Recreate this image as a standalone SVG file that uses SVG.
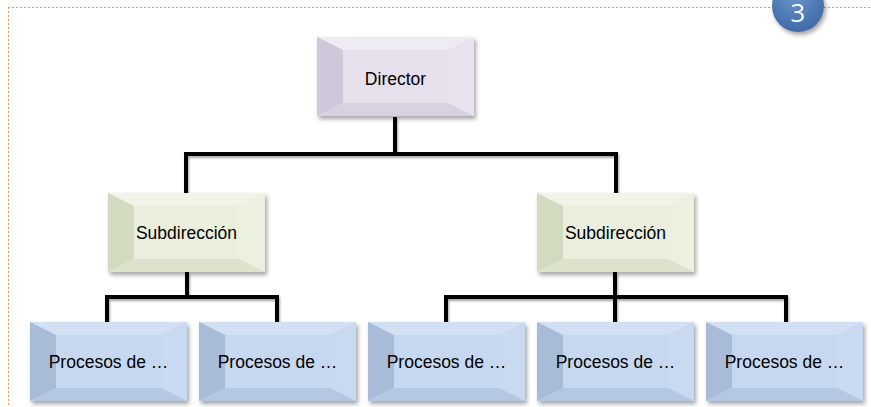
<svg xmlns="http://www.w3.org/2000/svg" xmlns:xlink="http://www.w3.org/1999/xlink" width="871" height="407" viewBox="0 0 871 407">
  <style>
    .frame { fill: none; stroke: #f79646; stroke-width: 1; stroke-dasharray: 2 2; }
    .conn { fill: none; stroke: #000; stroke-width: 4; stroke-linecap: butt; stroke-linejoin: miter; }
    .lbl { font-family: "Liberation Sans", Arial, sans-serif; font-size: 17.5px; fill: #000; text-anchor: middle; }
    .num { font-family: "Open Sans", "Liberation Sans", sans-serif; font-size: 26px; fill: #fff; text-anchor: middle; }
  </style>
  <defs>
    <filter id="sh" x="-10%" y="-10%" width="125%" height="130%">
      <feDropShadow dx="2" dy="3" stdDeviation="2" flood-color="#000" flood-opacity="0.35"/>
    </filter>
    <filter id="lsh" x="-5%" y="-20%" width="110%" height="160%">
      <feDropShadow dx="1" dy="2" stdDeviation="1.2" flood-color="#000" flood-opacity="0.35"/>
    </filter>
    <radialGradient id="ballg" cx="0.45" cy="0.3" r="0.75">
      <stop offset="0" stop-color="#6c95cc"/>
      <stop offset="1" stop-color="#3b67a3"/>
    </radialGradient>
    <g id="bev-blue">
      <rect x="0" y="0" width="157" height="79" fill="#c3d5ed"/>
      <polygon points="0,0 157,0 131,13 26,13" fill="#d2e0f3"/>
      <polygon points="0,0 26,13 26,66 0,79" fill="#a9bcd7"/>
      <polygon points="157,0 157,79 131,66 131,13" fill="#c9daf0"/>
      <polygon points="0,79 26,66 131,66 157,79" fill="#b5c8e2"/>
      <rect x="26" y="13" width="105" height="53" fill="#c5d8f0"/>
    </g>
    <g id="bev-green">
      <rect x="0" y="0" width="157" height="79" fill="#e6ecd8"/>
      <polygon points="0,0 157,0 131,13 26,13" fill="#f1f5e7"/>
      <polygon points="0,0 26,13 26,66 0,79" fill="#d2dac0"/>
      <polygon points="157,0 157,79 131,66 131,13" fill="#ebf0df"/>
      <polygon points="0,79 26,66 131,66 157,79" fill="#dbe3cb"/>
      <rect x="26" y="13" width="105" height="53" fill="#e9efdc"/>
    </g>
    <g id="bev-purple">
      <rect x="0" y="0" width="157" height="79" fill="#e2dde9"/>
      <polygon points="0,0 157,0 131,13 26,13" fill="#efebf3"/>
      <polygon points="0,0 26,13 26,66 0,79" fill="#cfc8da"/>
      <polygon points="157,0 157,79 131,66 131,13" fill="#e8e3ee"/>
      <polygon points="0,79 26,66 131,66 157,79" fill="#d8d1e2"/>
      <rect x="26" y="13" width="105" height="53" fill="#e5e0ec"/>
    </g>
  </defs>

  <g id="frame">
    <line class="frame" x1="8" y1="7.5" x2="871" y2="7.5"/>
    <line class="frame" x1="8.5" y1="7" x2="8.5" y2="407"/>
  </g>

  <g id="badge" filter="url(#sh)">
    <circle cx="798" cy="6" r="26" fill="url(#ballg)"/>
    <text class="num" x="798" y="22">3</text>
  </g>

  <g id="connectors" filter="url(#lsh)">
    <polyline class="conn" points="395,117 395,154"/>
    <polyline class="conn" points="186,193 186,154 616,154 616,193"/>
    <polyline class="conn" points="187,272 187,297"/>
    <polyline class="conn" points="107,322 107,297 277,297 277,322"/>
    <polyline class="conn" points="615,272 615,322"/>
    <polyline class="conn" points="446,322 446,297 786,297 786,322"/>
  </g>

  <g id="director" transform="translate(317,37)">
    <use xlink:href="#bev-purple" filter="url(#sh)"/>
    <text class="lbl" x="78.5" y="48">Director</text>
  </g>

  <g id="sub-left" transform="translate(108,193)">
    <use xlink:href="#bev-green" filter="url(#sh)"/>
    <text class="lbl" x="78.5" y="46">Subdirección</text>
  </g>
  <g id="sub-right" transform="translate(537,193)">
    <use xlink:href="#bev-green" filter="url(#sh)"/>
    <text class="lbl" x="78.5" y="46">Subdirección</text>
  </g>

  <g id="proc-1" transform="translate(30,322)">
    <use xlink:href="#bev-blue" filter="url(#sh)"/>
    <text class="lbl" x="78.5" y="46">Procesos de …</text>
  </g>
  <g id="proc-2" transform="translate(199,322)">
    <use xlink:href="#bev-blue" filter="url(#sh)"/>
    <text class="lbl" x="78.5" y="46">Procesos de …</text>
  </g>
  <g id="proc-3" transform="translate(368,322)">
    <use xlink:href="#bev-blue" filter="url(#sh)"/>
    <text class="lbl" x="78.5" y="46">Procesos de …</text>
  </g>
  <g id="proc-4" transform="translate(537,322)">
    <use xlink:href="#bev-blue" filter="url(#sh)"/>
    <text class="lbl" x="78.5" y="46">Procesos de …</text>
  </g>
  <g id="proc-5" transform="translate(706,322)">
    <use xlink:href="#bev-blue" filter="url(#sh)"/>
    <text class="lbl" x="78.5" y="46">Procesos de …</text>
  </g>
</svg>
